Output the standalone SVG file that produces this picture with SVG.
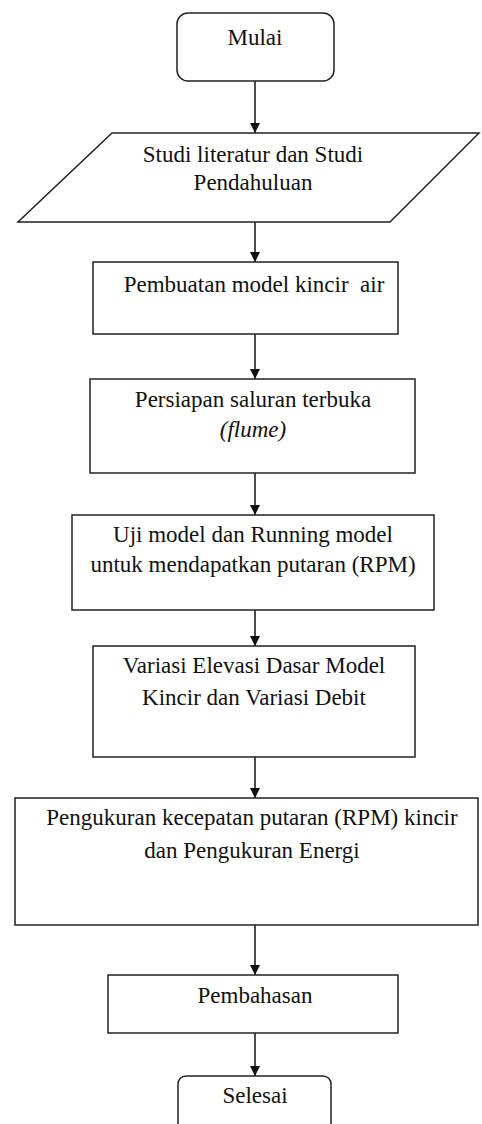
<svg xmlns="http://www.w3.org/2000/svg" width="482" height="1124" viewBox="0 0 482 1124">
<defs>
<marker id="ah" viewBox="0 0 10 10" refX="10" refY="5" markerWidth="10" markerHeight="10" markerUnits="userSpaceOnUse" orient="auto">
<path d="M0,0 L10,5 L0,10 z" fill="#111"/>
</marker>
<style>
.s{fill:#fff;stroke:#222;stroke-width:1.5}
.t{font-family:"Liberation Serif","Times New Roman",serif;font-size:23px;fill:#111;text-anchor:middle}
.c{stroke:#111;stroke-width:1.5;fill:none;marker-end:url(#ah)}
</style>
</defs>
<rect width="482" height="1124" fill="#fff"/>
<g id="connectors">
<line class="c" x1="255" y1="81" x2="255" y2="133"/>
<line class="c" x1="255" y1="222" x2="255" y2="262"/>
<line class="c" x1="255" y1="334" x2="255" y2="379"/>
<line class="c" x1="255" y1="473" x2="255" y2="515"/>
<line class="c" x1="255" y1="610" x2="255" y2="646"/>
<line class="c" x1="255" y1="757" x2="255" y2="798"/>
<line class="c" x1="255" y1="925" x2="255" y2="975"/>
<line class="c" x1="255" y1="1033" x2="255" y2="1076"/>
</g>
<g id="mulai">
<rect class="s" x="177" y="13" width="157" height="68" rx="11"/>
<text class="t" x="255" y="45">Mulai</text>
</g>
<g id="studi">
<polygon class="s" points="112,133 479,133 390,222 18,222"/>
<text class="t" x="253" y="162">Studi literatur dan Studi</text>
<text class="t" x="253" y="190">Pendahuluan</text>
</g>
<g id="pembuatan">
<rect class="s" x="93" y="262" width="305" height="72"/>
<text class="t" x="254" y="292" xml:space="preserve">Pembuatan model kincir  air</text>
</g>
<g id="persiapan">
<rect class="s" x="90" y="379" width="325" height="94"/>
<text class="t" x="253" y="407">Persiapan saluran terbuka</text>
<text class="t" x="253" y="437" font-style="italic">(flume)</text>
</g>
<g id="uji">
<rect class="s" x="72" y="515" width="362" height="95"/>
<text class="t" x="253" y="542">Uji model dan Running model</text>
<text class="t" x="253" y="572">untuk mendapatkan putaran (RPM)</text>
</g>
<g id="variasi">
<rect class="s" x="93" y="646" width="322" height="111"/>
<text class="t" x="254" y="673">Variasi Elevasi Dasar Model</text>
<text class="t" x="254" y="705">Kincir dan Variasi Debit</text>
</g>
<g id="pengukuran">
<rect class="s" x="15" y="798" width="463" height="127"/>
<text class="t" x="252" y="825">Pengukuran kecepatan putaran (RPM) kincir</text>
<text class="t" x="252" y="858">dan Pengukuran Energi</text>
</g>
<g id="pembahasan">
<rect class="s" x="108" y="975" width="290" height="58"/>
<text class="t" x="255" y="1003">Pembahasan</text>
</g>
<g id="selesai">
<rect class="s" x="178" y="1076" width="153" height="70" rx="8"/>
<text class="t" x="255" y="1103">Selesai</text>
</g>
</svg>
